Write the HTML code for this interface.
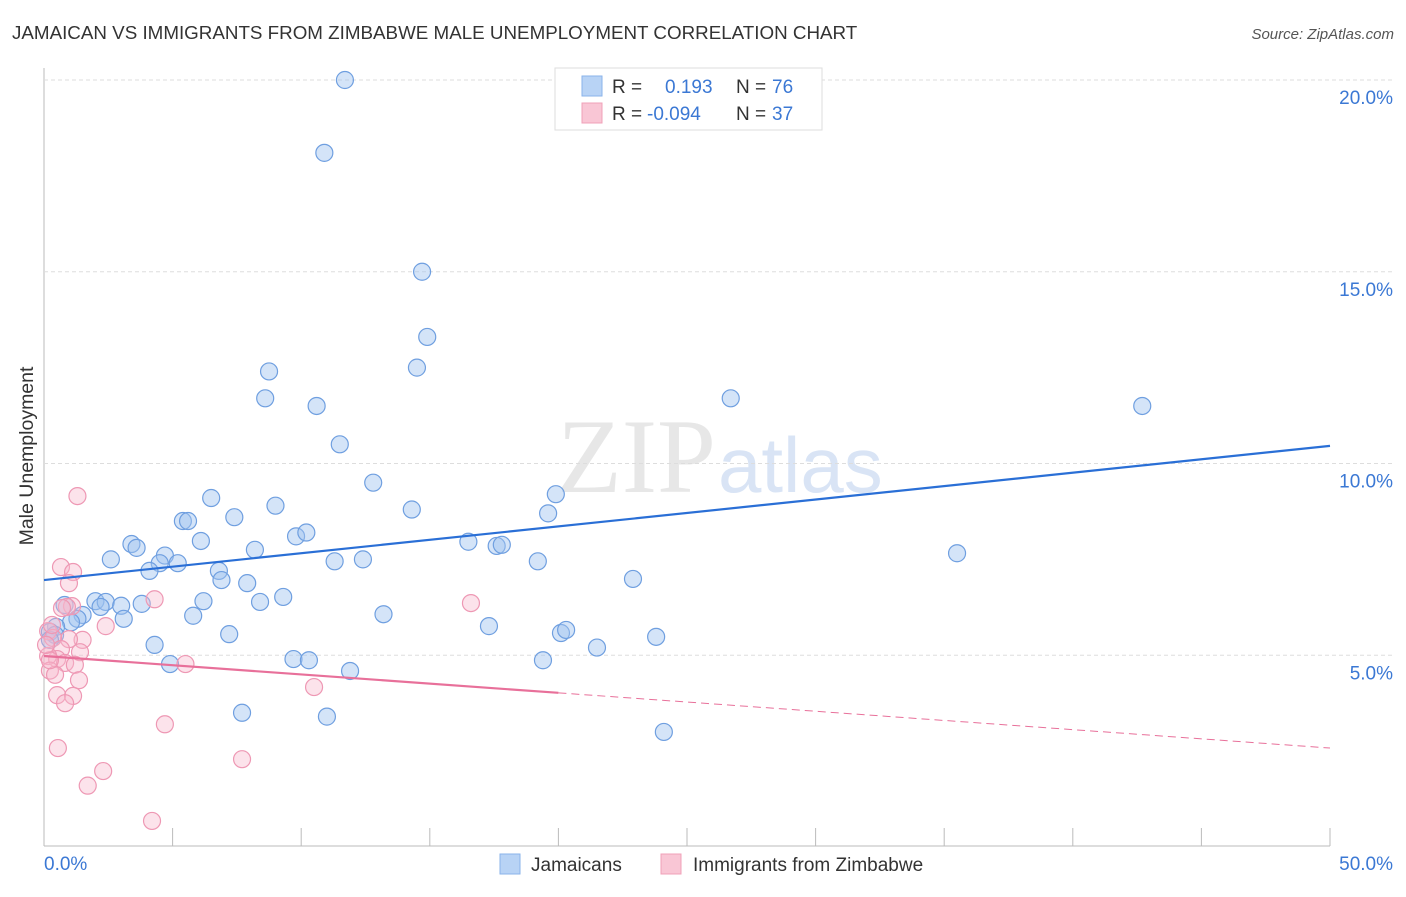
<!DOCTYPE html>
<html><head><meta charset="utf-8"><style>
body{margin:0;background:#fff;font-family:"Liberation Sans",sans-serif}
</style></head><body>
<svg id="c" width="1406" height="892" xmlns="http://www.w3.org/2000/svg" style="font-family:'Liberation Sans',sans-serif">
<text x="12" y="39" font-size="18.8" fill="#333">JAMAICAN VS IMMIGRANTS FROM ZIMBABWE MALE UNEMPLOYMENT CORRELATION CHART</text>
<text x="1394" y="39" font-size="15" fill="#555" text-anchor="end" font-style="italic">Source: ZipAtlas.com</text>
<text x="33" y="456" font-size="19.5" fill="#333" text-anchor="middle" transform="rotate(-90 33 456)">Male Unemployment</text>
<text x="716" y="492" font-size="106" fill="#ddd" text-anchor="end" font-family="Liberation Serif" opacity="0.7">ZIP</text>
<text x="718" y="492" font-size="78" fill="#c9daf2" opacity="0.7">atlas</text>
<g id="grid"></g><g id="pts"></g><g id="lines"></g>
<g>
<rect x="555" y="68" width="267" height="62" fill="#fff" stroke="#ddd"/>
<rect x="582" y="76" width="20" height="20" fill="#b8d3f5" stroke="#8ab3ea"/>
<rect x="582" y="103" width="20" height="20" fill="#f9c6d5" stroke="#f0a0b8"/>
<text x="612" y="93" font-size="19" fill="#333">R = </text><text x="665" y="93" font-size="19" fill="#3b78d4">0.193</text>
<text x="736" y="93" font-size="19" fill="#333">N = </text><text x="772" y="93" font-size="19" fill="#3b78d4">76</text>
<text x="612" y="120" font-size="19" fill="#333">R = </text><text x="647" y="120" font-size="19" fill="#3b78d4">-0.094</text>
<text x="736" y="120" font-size="19" fill="#333">N = </text><text x="772" y="120" font-size="19" fill="#3b78d4">37</text>
</g>
<g>
<rect x="500" y="854" width="20" height="20" fill="#b8d3f5" stroke="#8ab3ea"/>
<text x="531" y="871" font-size="19" fill="#333">Jamaicans</text>
<rect x="661" y="854" width="20" height="20" fill="#f9c6d5" stroke="#f0a0b8"/>
<text x="693" y="871" font-size="19" fill="#333">Immigrants from Zimbabwe</text>
</g>
</svg>
<script>
const yTicks=[5,10,15,20];
const yTickLabels=["5.0%","10.0%","15.0%","20.0%"];
const xTickLabels=["0.0%","50.0%"];
const blueX=[11.7,10.9,14.7,14.9,14.5,8.75,8.6,10.6,26.7,42.7,11.5,12.8,19.9,6.5,14.3,9.0,19.6,7.4,5.4,5.6,3.4,3.6,6.1,9.8,10.2,16.5,17.6,17.8,8.2,2.6,4.7,4.5,5.2,4.1,11.3,12.4,19.2,35.5,6.8,6.9,7.9,22.9,2.0,2.4,3.0,3.8,6.2,8.4,9.3,2.2,0.8,1.5,1.3,3.1,5.8,13.2,1.05,0.47,0.23,0.43,17.3,20.1,20.3,23.8,7.2,4.3,21.5,9.7,10.3,19.4,4.9,11.9,7.7,11.0,24.1,0.23];
const blueY=[20.0,18.1,15.0,13.3,12.5,12.4,11.7,11.5,11.7,11.5,10.5,9.5,9.2,9.1,8.8,8.9,8.7,8.6,8.5,8.5,7.9,7.8,7.98,8.1,8.2,7.96,7.85,7.88,7.75,7.5,7.6,7.4,7.4,7.2,7.45,7.5,7.45,7.66,7.2,6.96,6.88,6.99,6.41,6.39,6.29,6.34,6.41,6.39,6.52,6.26,6.31,6.05,5.95,5.95,6.03,6.07,5.86,5.74,5.61,5.53,5.76,5.58,5.66,5.48,5.55,5.27,5.2,4.9,4.87,4.87,4.77,4.59,3.5,3.4,3.0,5.4];
const pinkX=[1.3,0.66,1.13,0.97,1.09,0.89,0.7,4.3,16.6,2.4,1.5,0.97,0.16,0.35,0.66,1.4,0.51,0.16,0.82,1.2,5.5,0.23,0.43,1.36,10.5,0.51,1.13,0.82,4.7,0.54,2.3,7.7,1.7,4.2,0.23,0.08,0.31];
const pinkY=[9.15,7.3,7.17,6.88,6.28,6.26,6.23,6.46,6.36,5.76,5.4,5.42,5.63,5.45,5.16,5.08,4.9,4.98,4.8,4.75,4.77,4.6,4.49,4.35,4.17,3.96,3.94,3.75,3.2,2.58,1.98,2.29,1.6,0.68,4.87,5.27,5.79];
const blueLine=[6.96,10.46];
const pinkLine=[4.98,2.58];
const NS="http://www.w3.org/2000/svg";
const X=v=>44+v*25.72, Y=v=>847-v*38.35;
function mk(t,a,p){const e=document.createElementNS(NS,t);for(const k in a)e.setAttribute(k,a[k]);p.appendChild(e);return e;}
const g=document.getElementById('grid');
mk('line',{x1:44,y1:68,x2:44,y2:846,stroke:'#bbb'},g);
mk('line',{x1:44,y1:846,x2:1330,y2:846,stroke:'#bbb'},g);
for(let i=0;i<=10;i++){const l=mk('line',{x1:X(i*5),y1:828,x2:X(i*5),y2:846,stroke:'#bbb'},g);}
yTicks.forEach((t,i)=>{const l=mk('line',{x1:44,y1:Y(t),x2:1394,y2:Y(t),stroke:'#ddd','stroke-dasharray':'4 3'},g);
const tx=mk('text',{x:1393,y:Y(t)+24,'font-size':19,fill:'#3b78d4','text-anchor':'end'},g);tx.textContent=yTickLabels[i];});
const t0=mk('text',{x:44,y:870,'font-size':19,fill:'#3b78d4'},g);t0.textContent=xTickLabels[0];
const t1=mk('text',{x:1393,y:870,'font-size':19,fill:'#3b78d4','text-anchor':'end'},g);t1.textContent=xTickLabels[1];
const p=document.getElementById('pts');
blueX.forEach((x,i)=>{const c=mk('circle',{cx:X(x),cy:Y(blueY[i]),r:8.5,fill:'rgba(160,196,240,0.45)',stroke:'#6f9fe0','stroke-width':1.2},p);});
pinkX.forEach((x,i)=>{const c=mk('circle',{cx:X(x),cy:Y(pinkY[i]),r:8.5,fill:'rgba(248,184,204,0.4)',stroke:'#ee98b4','stroke-width':1.2},p);});
const L=document.getElementById('lines');
const bl=mk('line',{x1:X(0),y1:Y(blueLine[0]),x2:X(50),y2:Y(blueLine[1]),stroke:'#2a6fd6','stroke-width':2.2},L);
const pm=pinkLine[0]+(pinkLine[1]-pinkLine[0])*20/50;
const pl=mk('line',{x1:X(0),y1:Y(pinkLine[0]),x2:X(20),y2:Y(pm),stroke:'#e8709a','stroke-width':2.2},L);
const pd=mk('line',{x1:X(20),y1:Y(pm),x2:X(50),y2:Y(pinkLine[1]),stroke:'#e8709a','stroke-width':1,'stroke-dasharray':'8 5'},L);
</script>
</body></html>
